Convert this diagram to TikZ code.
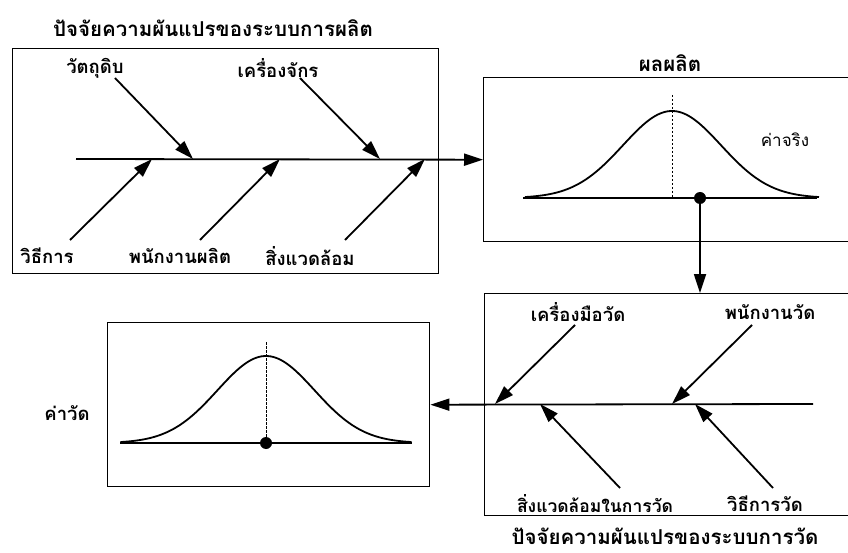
\documentclass[tikz,border=0pt]{standalone}
\usepackage{fontspec}
\usepackage{tikz}
\usetikzlibrary{arrows.meta,positioning,calc}
\newfontfamily\thaifont[Script=Thai]{Loma}

\tikzset{
  box/.style={draw,line width=1.4pt,inner sep=0pt},
  bone/.style={-{Triangle[length=19pt,width=12pt]},line width=1.8pt},
  spine/.style={line width=1.8pt},
  lbl/.style={font=\thaifont\bfseries\fontsize{18.5}{20}\selectfont,inner sep=1pt},
  ttl/.style={font=\thaifont\bfseries\fontsize{20.5}{22}\selectfont,inner sep=0pt},
  mean/.style={line width=0.7pt,dash pattern=on 2.5pt off 1.5pt},
  dot/.style={circle,fill,inner sep=0pt,minimum size=12pt}
}

\begin{document}
\begin{tikzpicture}[x=1pt,y=-1pt]
  \useasboundingbox (0,0) rectangle (848,553);
  \clip (0,0) rectangle (848,553);

  % ระบบการผลิต
  \node[ttl] (ttlprod) at (213,28) {ปัจจัยความผันแปรของระบบการผลิต};
  \node[box,anchor=north west,minimum width=426pt,minimum height=225pt] (prod) at (12,48) {};
  \coordinate (sp1) at (76,159);
  \node[lbl] (raw)  at (95,68)  {วัตถุดิบ};
  \node[lbl] (mach) at (278,68) {เครื่องจักร};
  \node[lbl] (meth) at (47,256) {วิธีการ};
  \node[lbl] (work) at (180,256) {พนักงานผลิต};
  \node[lbl] (env)  at (310,256) {สิ่งแวดล้อม};
  \foreach \n/\xa/\ya/\xb in {raw/115/78/193, mach/300/78/380,
                              meth/70/240/152, work/200/240/280, env/345/240/425}{
    \coordinate (\n-t) at (\xa,\ya);
    \coordinate (\n-h) at (\xb,159);
    \draw[bone] (\n-t) -- (\n-h);
  }

  % ผลผลิต (ค่าจริง)
  \node[ttl] (ttlout) at (670,63) {ผลผลิต};
  \node[box,anchor=north west,minimum width=400pt,minimum height=164pt] (out) at (483,77) {};
  \draw[bone] (sp1) -- (out.west);
  \draw[spine] (523,198) -- (817,198);
  \draw[line width=1.8pt] plot[smooth,domain=-3:3,samples=61]
    ({672+49*\x},{198-87*exp(-\x*\x/2)});
  \draw[mean] (672,95) -- (672,198);
  \node[font=\thaifont\fontsize{17}{19}\selectfont] (truev) at (785,140) {ค่าจริง};
  \node[dot] (tv) at (700,198) {};

  % ระบบการวัด
  \node[box,anchor=north west,minimum width=400pt,minimum height=222pt] (msys) at (484,293) {};
  \draw[bone] (tv) -- (tv |- msys.north);
  \coordinate (sp3) at (813,404);
  \node[lbl] (tool)  at (578,312) {เครื่องมือวัด};
  \node[lbl] (mwork) at (770,312) {พนักงานวัด};
  \node[lbl,font=\thaifont\bfseries\fontsize{17.5}{19}\selectfont] (menv) at (595,504) {สิ่งแวดล้อมในการวัด};
  \node[lbl] (mmeth) at (765,504) {วิธีการวัด};
  \foreach \n/\xa/\ya/\xb in {tool/575/325/495, mwork/752/325/672,
                              menv/620/488/540, mmeth/773/488/695}{
    \coordinate (\n-t) at (\xa,\ya);
    \coordinate (\n-h) at (\xb,404);
    \draw[bone] (\n-t) -- (\n-h);
  }
  \node[ttl] (ttlmeas) at (665,536) {ปัจจัยความผันแปรของระบบการวัด};

  % ค่าวัด
  \node[box,anchor=north west,minimum width=322pt,minimum height=164pt] (meas) at (107,322) {};
  \draw[bone] (sp3) -- (meas.east);
  \draw[spine] (120,443) -- (412,443);
  \draw[line width=1.8pt] plot[smooth,domain=-3:3,samples=61]
    ({266+48.5*\x},{443-87*exp(-\x*\x/2)});
  \draw[mean] (266,342) -- (266,443);
  \node[dot] (mv) at (266,443) {};
  \node[lbl] (measv) at (67,413) {ค่าวัด};
\end{tikzpicture}
\end{document}
